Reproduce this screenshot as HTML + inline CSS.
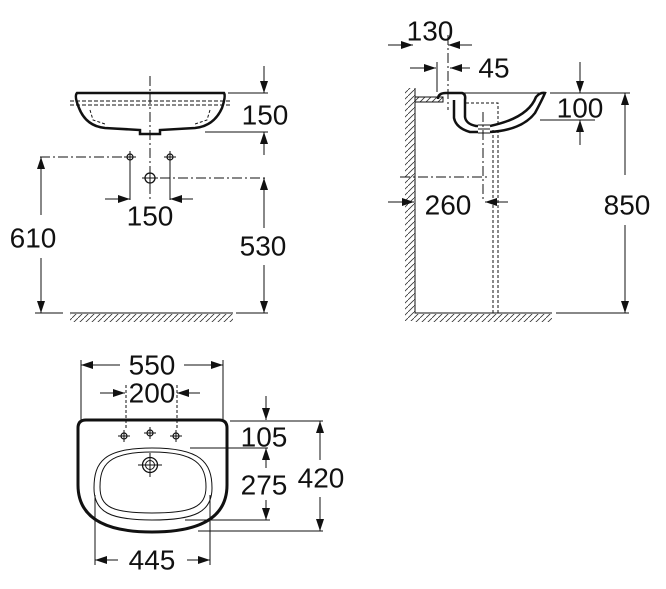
<!DOCTYPE html>
<html><head><meta charset="utf-8"><style>
html,body{margin:0;padding:0;background:#fff;}
svg{display:block}
text{font-family:"Liberation Sans",sans-serif;font-size:28px;fill:#111;text-anchor:middle;dominant-baseline:central}
</style></head><body>
<svg width="666" height="589" viewBox="0 0 666 589" xmlns="http://www.w3.org/2000/svg">
<defs>
<marker id="a" viewBox="0 0 12 8" refX="12" refY="4" markerWidth="12" markerHeight="8" markerUnits="userSpaceOnUse" orient="auto"><path d="M0,0 L12,4 L0,8 Z" fill="#111"/></marker>
<pattern id="h" width="6" height="6" patternUnits="userSpaceOnUse"><path d="M0,6 L6,0" stroke="#333" stroke-width="0.8"/></pattern>
<g id="tap"><circle r="3" fill="none" stroke="#111" stroke-width="1.2"/><path d="M-6,0H6M0,-6V6" stroke="#111" stroke-width="1"/></g>
</defs>
<g stroke="#111" stroke-width="1" fill="none">
<!-- FRONT VIEW -->
<path d="M77,93 L224,93 Q226,96 222,108 Q214,126 195,128 L160,130 L160,134 L140,134 L140,130 L105,128 Q86,126 79,108 Q74,96 77,93 Z" stroke-width="2.5"/>
<path d="M70,101H230M70,105H230" stroke-dasharray="4,2"/>
<path d="M90,110 L93,120 L105,124" stroke-dasharray="3,2"/>
<path d="M210,110 L207,120 L195,124" stroke-dasharray="3,2"/>
<path d="M150,76V200" stroke-dasharray="10,3,2,3"/>
<path d="M40,157H125M160,178H268" stroke-dasharray="10,3,2,3"/>
<path d="M130,160V200M170,160V200"/>
<use href="#tap" x="130" y="157"/><use href="#tap" x="170" y="157"/>
<circle cx="150" cy="178" r="5" stroke-width="1.3"/><path d="M142,178H158M150,170V186"/>
<path d="M105,199H130" marker-end="url(#a)"/><path d="M193,199H170" marker-end="url(#a)"/>
<path d="M228,93H268M205,132H268"/>
<path d="M264,66V93" marker-end="url(#a)"/><path d="M264,155V132" marker-end="url(#a)"/>
<path d="M41,215V157" marker-end="url(#a)"/><path d="M41,258V313" marker-end="url(#a)"/>
<path d="M264,228V178" marker-end="url(#a)"/><path d="M264,265V313" marker-end="url(#a)"/>
<path d="M35,313H63M70,313H233M236,313H268"/>
<rect x="70" y="314" width="163" height="8" fill="url(#h)" stroke="none"/>
<!-- SIDE VIEW -->
<path d="M415,88V313H552M556,313H629"/>
<rect x="405" y="88" width="10" height="233" fill="url(#h)" stroke="none"/>
<rect x="415" y="314" width="137" height="8" fill="url(#h)" stroke="none"/>
<rect x="415" y="97" width="28" height="5" fill="url(#h)" stroke="#111"/>
<path d="M438,99 Q438,93 446,93 H462 Q466,94 465,100 V117 Q466,124 476,126 H478" stroke-width="2.5"/>
<path d="M454,100 V118 Q456,128 470,132 H478" stroke-width="2.5"/>
<path d="M490,132 Q522,130 535,113 Q542,100 545,93 Q540,92 536,97 Q528,118 490,126" stroke-width="2.5"/>
<path d="M478,125H490M478,129H490M478,133H490"/>
<path d="M458,93H545"/>
<path d="M466,103H498V124" stroke-dasharray="3,2"/>
<path d="M493,130V313M498,130V313" stroke-dasharray="3,2"/>
<path d="M483,112V200" stroke-dasharray="10,3,2,3"/>
<path d="M400,177H490" stroke-dasharray="10,3,2,3"/>
<path d="M448,35V110" stroke-dasharray="10,3,2,3"/>
<path d="M437,62V92"/>
<path d="M388,45H413" marker-end="url(#a)"/><path d="M472,45H448" marker-end="url(#a)"/>
<path d="M410,68H436" marker-end="url(#a)"/><path d="M470,68H450" marker-end="url(#a)"/>
<path d="M388,202H414" marker-end="url(#a)"/><path d="M508,202H485" marker-end="url(#a)"/>
<path d="M550,93H630M540,120H595"/>
<path d="M580,62V93" marker-end="url(#a)"/><path d="M580,145V120" marker-end="url(#a)"/>
<path d="M625,175V93" marker-end="url(#a)"/><path d="M625,225V313" marker-end="url(#a)"/>
<!-- TOP VIEW -->
<path d="M86,420 L219,420 Q227,420 227,428 L227,485 Q227,532 152,532 Q78,532 78,485 L78,428 Q78,420 86,420 Z" stroke-width="3"/>
<path d="M152,448 C200,448 212,462 212,488 C212,512 195,520 152,520 C110,520 94,512 94,488 C94,462 104,448 152,448 Z"/>
<path d="M152,452 C196,452 206,465 206,487 C206,507 192,513 152,513 C112,513 100,507 100,487 C100,465 108,452 152,452 Z"/>
<circle cx="150" cy="465" r="7.5" stroke-width="1.3"/><circle cx="150" cy="465" r="4.5"/>
<path d="M138,465H162M150,453V477"/>
<use href="#tap" x="124" y="436"/><use href="#tap" x="150" y="433"/><use href="#tap" x="176" y="436"/>
<path d="M81,360V420M223,360V420"/>
<path d="M126,385V428M177,385V428" stroke-dasharray="3,2"/>
<path d="M95,495V565M210,495V565"/>
<path d="M120,365H81" marker-end="url(#a)"/><path d="M184,365H223" marker-end="url(#a)"/>
<path d="M100,393H125" marker-end="url(#a)"/><path d="M200,393H177" marker-end="url(#a)"/>
<path d="M118,560H95" marker-end="url(#a)"/><path d="M187,560H210" marker-end="url(#a)"/>
<path d="M230,421H323M190,448H268M185,520H270M198,531H323"/>
<path d="M266,396V420" marker-end="url(#a)"/>
<path d="M266,468V448" marker-end="url(#a)"/><path d="M266,500V520" marker-end="url(#a)"/>
<path d="M320,460V421" marker-end="url(#a)"/><path d="M320,497V531" marker-end="url(#a)"/>
</g>
<text x="265" y="115">150</text>
<text x="150" y="216">150</text>
<text x="33" y="238">610</text>
<text x="263" y="246">530</text>
<text x="430" y="31">130</text>
<text x="494" y="68">45</text>
<text x="580" y="108">100</text>
<text x="448" y="205">260</text>
<text x="627" y="205">850</text>
<text x="152" y="365">550</text>
<text x="152" y="393">200</text>
<text x="264" y="437">105</text>
<text x="264" y="485">275</text>
<text x="321" y="478">420</text>
<text x="152" y="560">445</text>
</svg>
</body></html>
